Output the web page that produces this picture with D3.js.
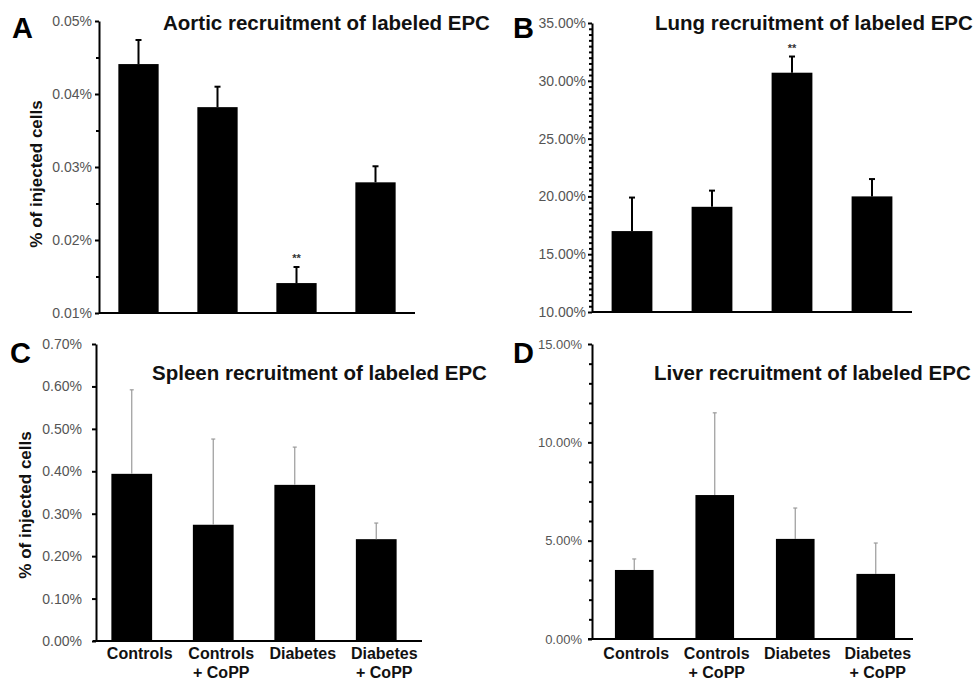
<!DOCTYPE html>
<html>
<head>
<meta charset="utf-8">
<script src="https://cdn.jsdelivr.net/npm/d3@7"></script>
<style>
  body { margin: 0; background: #fff; }
  svg { display: block; font-family: Arial, "Liberation Sans", sans-serif; }
</style>
</head>
<body>
<svg id="chart"></svg>
<script>
const groups = ["Controls", "Controls|+ CoPP", "Diabetes", "Diabetes|+ CoPP"];

// A - aorta (% of injected cells)
const aorticMean = [0.0441, 0.0382, 0.0141, 0.0279];
const aorticErr = [0.0033, 0.0028, 0.0022, 0.0022];
const aorticTicks = [0.01, 0.02, 0.03, 0.04, 0.05];

// B - lung
const lungMean = [17.0, 19.1, 30.7, 20.0];
const lungErr = [2.9, 1.4, 1.4, 1.5];
const lungTicks = [10, 15, 20, 25, 30, 35];

// C - spleen
const spleenMean = [0.394, 0.274, 0.368, 0.240];
const spleenErr = [0.198, 0.202, 0.089, 0.038];
const spleenTicks = [0, 0.1, 0.2, 0.3, 0.4, 0.5, 0.6, 0.7];

// D - liver
const liverMean = [3.51, 7.32, 5.09, 3.31];
const liverErr = [0.56, 4.18, 1.57, 1.57];
const liverTicks = [0, 5, 10, 15];

const width = 975;
const height = 684;

const svg = d3.select("#chart").attr("width", width).attr("height", height);

const panels = [
  {
    label: "A", labelPos: [12, 38],
    title: "Aortic recruitment of labeled EPC", titlePos: [163, 30],
    means: aorticMean, errs: aorticErr, ticks: aorticTicks,
    minor: d3.range(0.015, 0.05, 0.01),
    domain: [0.01, 0.05], yRange: [313, 21],
    axisX: 99, xRange: [99, 415], xLine: [99, 415], pad: 0.49,
    tickPad: 3, tickFont: 14, heavyErr: true, star: 2,
    yTitle: [42, 174]
  },
  {
    label: "B", labelPos: [513, 38],
    title: "Lung recruitment of labeled EPC", titlePos: [655, 30],
    means: lungMean, errs: lungErr, ticks: lungTicks,
    minor: d3.range(10.5, 35, 0.5).filter(d => d % 5 !== 0),
    domain: [10, 35], yRange: [312, 23],
    axisX: 592, xRange: [592, 912], xLine: [592, 912], pad: 0.49,
    tickPad: 2, tickFont: 14, heavyErr: true, star: 2
  },
  {
    label: "C", labelPos: [10, 363],
    title: "Spleen recruitment of labeled EPC", titlePos: [152, 380],
    means: spleenMean, errs: spleenErr, ticks: spleenTicks,
    minor: [],
    domain: [0, 0.7], yRange: [641, 344],
    axisX: 96, xRange: [91, 417], xLine: [93, 422], pad: 0.5,
    tickPad: 10, tickFont: 14, heavyErr: false,
    yTitle: [31, 505], xLabels: true, labelShift: 8
  },
  {
    label: "D", labelPos: [513, 363],
    title: "Liver recruitment of labeled EPC", titlePos: [654, 380],
    means: liverMean, errs: liverErr, ticks: liverTicks,
    minor: d3.range(1, 15, 1).filter(d => d % 5 !== 0),
    domain: [0, 15], yRange: [639, 344],
    axisX: 592, xRange: [594, 916], xLine: [588, 913], pad: 0.52,
    tickPad: 6, tickFont: 13, heavyErr: false,
    xLabels: true, labelShift: 2
  }
];

const drawPanel = (p) => {
  const g = svg.append("g");

  const x = d3.scaleBand()
    .domain(groups)
    .range(p.xRange)
    .paddingInner(p.pad)
    .paddingOuter(p.pad / 2);
  const y = d3.scaleLinear().domain(p.domain).range(p.yRange);
  const base = y(p.domain[0]);

  // bars
  g.selectAll("rect.bar")
    .data(p.means)
    .join("rect")
    .attr("class", "bar")
    .attr("x", (d, i) => x(groups[i]))
    .attr("y", d => y(d))
    .attr("width", x.bandwidth())
    .attr("height", d => base - y(d))
    .attr("fill", "#000");

  // error bars (upper only)
  const errColor = p.heavyErr ? "#000" : "#9a9a9a";
  const errWidth = p.heavyErr ? 2 : 1.2;
  const capHalf = p.heavyErr ? 3 : 2;
  const cx = i => x(groups[i]) + x.bandwidth() / 2;

  p.means.forEach((m, i) => {
    const top = y(m + p.errs[i]);
    g.append("line")
      .attr("x1", cx(i)).attr("x2", cx(i))
      .attr("y1", y(m)).attr("y2", top)
      .attr("stroke", errColor).attr("stroke-width", errWidth);
    g.append("line")
      .attr("x1", cx(i) - capHalf).attr("x2", cx(i) + capHalf)
      .attr("y1", top).attr("y2", top)
      .attr("stroke", errColor).attr("stroke-width", errWidth);
  });

  if (p.star !== undefined) {
    const i = p.star;
    g.append("text")
      .attr("x", cx(i))
      .attr("y", y(p.means[i] + p.errs[i]) - 5)
      .attr("text-anchor", "middle")
      .attr("font-size", 11)
      .attr("font-weight", "bold")
      .attr("fill", "#333")
      .text("**");
  }

  // minor ticks
  if (p.minor.length) {
    g.append("g")
      .attr("transform", `translate(${p.axisX},0)`)
      .call(d3.axisLeft(y).tickValues(p.minor).tickSize(3).tickFormat(""))
      .call(s => s.select(".domain").remove())
      .selectAll("line").attr("stroke-width", 2);
  }

  // major axis
  const ax = g.append("g")
    .attr("transform", `translate(${p.axisX},0)`)
    .call(
      d3.axisLeft(y)
        .tickValues(p.ticks)
        .tickSize(4)
        .tickSizeOuter(0)
        .tickPadding(p.tickPad)
        .tickFormat(d => d.toFixed(2) + "%")
    );
  ax.attr("font-family", null);
  ax.select(".domain").attr("stroke-width", 2);
  ax.selectAll(".tick line").attr("stroke-width", 2);
  ax.selectAll("text")
    .attr("font-size", p.tickFont)
    .attr("fill", "#555");

  // x axis baseline
  g.append("line")
    .attr("x1", p.xLine[0]).attr("x2", p.xLine[1])
    .attr("y1", base).attr("y2", base)
    .attr("stroke", "#000").attr("stroke-width", 2);

  // category labels (two lines, kept inside the bottom edge)
  if (p.xLabels) {
    groups.forEach((name, i) => {
      const t = g.append("text")
        .attr("x", cx(i) + p.labelShift)
        .attr("y", 659)
        .attr("text-anchor", "middle")
        .attr("font-size", 16)
        .attr("font-weight", "bold")
        .attr("fill", "#111");
      name.split("|").forEach((line, k) => {
        t.append("tspan")
          .attr("x", cx(i) + p.labelShift)
          .attr("dy", k === 0 ? 0 : 19)
          .text(line);
      });
    });
  }

  // panel letter and title
  g.append("text")
    .attr("x", p.labelPos[0]).attr("y", p.labelPos[1])
    .attr("font-size", 29).attr("font-weight", "bold")
    .text(p.label);

  g.append("text")
    .attr("x", p.titlePos[0]).attr("y", p.titlePos[1])
    .attr("font-size", 20.5).attr("font-weight", "bold")
    .attr("fill", "#111")
    .text(p.title);

  if (p.yTitle) {
    g.append("text")
      .attr("transform", `translate(${p.yTitle[0]},${p.yTitle[1]}) rotate(-90)`)
      .attr("text-anchor", "middle")
      .attr("font-size", 17)
      .attr("font-weight", "bold")
      .attr("fill", "#111")
      .text("% of injected cells");
  }
};

panels.forEach(drawPanel);
</script>
</body>
</html>
